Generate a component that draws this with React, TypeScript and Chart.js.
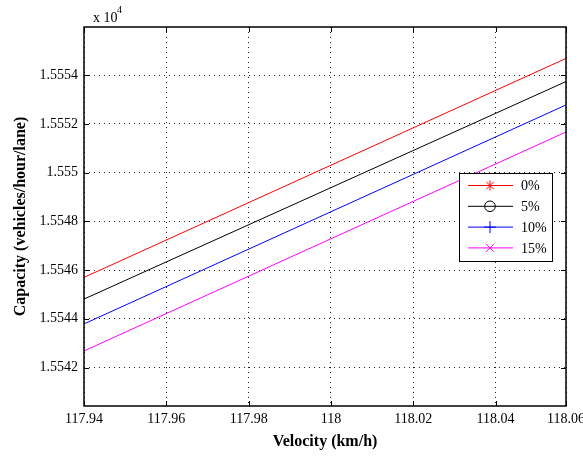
import React, { useEffect, useRef } from "react";
import { Chart, registerables } from "chart.js";

Chart.register(...registerables);

// ---- data ----
const velocity = [117.94, 118.0571];
const capacity0 = [15545.7, 15554.69];
const capacity5 = [15544.81, 15553.74];
const capacity10 = [15543.79, 15552.78];
const capacity15 = [15542.68, 15551.67];
const seriesLabels = ["0%", "5%", "10%", "15%"];
const seriesColors = ["#ff0000", "#000000", "#0000ff", "#ff00ff"];
const seriesMarkers = ["star", "circle", "plus", "cross"];

const xTickValues = [117.94, 117.96, 117.98, 118.0, 118.02, 118.04, 118.0571];
const xTickLabels = ["117.94", "117.96", "117.98", "118", "118.02", "118.04", "118.06"];
const yTickValues = [15542, 15544, 15546, 15548, 15550, 15552, 15554];
const yTickLabels = ["1.5542", "1.5544", "1.5546", "1.5548", "1.555", "1.5552", "1.5554"];
const xLimits = [117.94, 118.0571];
const yLimits = [15540.42, 15555.98];

const FONT = "'Liberation Serif', 'Times New Roman', serif";

function drawMarker(ctx: CanvasRenderingContext2D, kind: string, x: number, y: number) {
  ctx.beginPath();
  if (kind === "star") {
    const r = 5;
    ctx.moveTo(x - r, y); ctx.lineTo(x + r, y);
    ctx.moveTo(x, y - r); ctx.lineTo(x, y + r);
    const d = r * 0.75;
    ctx.moveTo(x - d, y - d); ctx.lineTo(x + d, y + d);
    ctx.moveTo(x - d, y + d); ctx.lineTo(x + d, y - d);
  } else if (kind === "circle") {
    ctx.arc(x, y, 5.3, 0, Math.PI * 2);
  } else if (kind === "plus") {
    const r = 6;
    ctx.moveTo(x - r, y); ctx.lineTo(x + r, y);
    ctx.moveTo(x, y - r); ctx.lineTo(x, y + r);
  } else {
    const d = 4;
    ctx.moveTo(x - d, y - d); ctx.lineTo(x + d, y + d);
    ctx.moveTo(x - d, y + d); ctx.lineTo(x + d, y - d);
  }
  ctx.stroke();
}

const framePlugin = {
  id: "matlabFrame",
  afterDraw(chart: any) {
    const ctx: CanvasRenderingContext2D = chart.ctx;
    const a = chart.chartArea;
    const xs = chart.scales.x;
    const ys = chart.scales.y;
    ctx.save();
    // frame
    ctx.strokeStyle = "#000";
    ctx.lineWidth = 1.5;
    ctx.strokeRect(a.left, a.top, a.right - a.left, a.bottom - a.top);
    // inward tick marks
    ctx.lineWidth = 1;
    ctx.beginPath();
    const tl = 5;
    xs.ticks.forEach((t: any) => {
      const px = Math.round(xs.getPixelForValue(t.value)) + 0.5;
      ctx.moveTo(px, a.bottom); ctx.lineTo(px, a.bottom - tl);
      ctx.moveTo(px, a.top); ctx.lineTo(px, a.top + tl);
    });
    ys.ticks.forEach((t: any) => {
      const py = Math.round(ys.getPixelForValue(t.value)) + 0.5;
      ctx.moveTo(a.left, py); ctx.lineTo(a.left + tl, py);
      ctx.moveTo(a.right, py); ctx.lineTo(a.right - tl, py);
    });
    ctx.stroke();

    // exponent label
    ctx.fillStyle = "#000";
    ctx.textBaseline = "middle";
    ctx.textAlign = "left";
    ctx.font = `14px ${FONT}`;
    ctx.fillText("x 10", a.left + 9, a.top - 9);
    ctx.font = `10px ${FONT}`;
    ctx.fillText("4", a.left + 33, a.top - 17);

    // legend
    const bx = a.right - 107;
    const by = a.top + 146;
    const bw = 93;
    const bh = 88;
    ctx.fillStyle = "#fff";
    ctx.fillRect(bx, by, bw, bh);
    ctx.strokeStyle = "#000";
    ctx.lineWidth = 1;
    ctx.strokeRect(bx + 0.5, by + 0.5, bw, bh);
    chart.data.datasets.forEach((ds: any, i: number) => {
      const ry = by + 12.5 + i * 20.8;
      ctx.strokeStyle = ds.borderColor;
      ctx.lineWidth = 1;
      ctx.beginPath();
      ctx.moveTo(bx + 9, ry);
      ctx.lineTo(bx + 54, ry);
      ctx.stroke();
      drawMarker(ctx, seriesMarkers[i], bx + 31, ry);
      ctx.fillStyle = "#000";
      ctx.font = `14px ${FONT}`;
      ctx.textAlign = "left";
      ctx.textBaseline = "middle";
      ctx.fillText(ds.label, bx + 62, ry + 1);
    });
    ctx.restore();
  },
};

export default function App() {
  const ref = useRef<HTMLCanvasElement | null>(null);
  useEffect(() => {
    document.body.style.margin = "0";
    const canvas = ref.current;
    if (!canvas) return;
    const series = [capacity0, capacity5, capacity10, capacity15];
    const chart = new Chart(canvas, {
      type: "line",
      data: {
        datasets: series.map((vals, i) => ({
          label: seriesLabels[i],
          data: velocity.map((v, j) => ({ x: v, y: vals[j] })),
          borderColor: seriesColors[i],
          backgroundColor: seriesColors[i],
          borderWidth: 1,
          pointRadius: 0,
          fill: false,
          tension: 0,
        })),
      },
      options: {
        responsive: false,
        animation: false,
        devicePixelRatio: 1,
        layout: { padding: { left: 0, right: 17, top: 27, bottom: 0 } },
        plugins: {
          legend: { display: false },
          tooltip: { enabled: false },
        },
        scales: {
          x: {
            type: "linear",
            min: xLimits[0],
            max: xLimits[1],
            afterBuildTicks: (s: any) => {
              s.ticks = xTickValues.map((v) => ({ value: v }));
            },
            afterFit: (s: any) => {
              s.height = 50;
              s.paddingLeft = 0;
              s.paddingRight = 0;
            },
            ticks: {
              autoSkip: false,
              maxRotation: 0,
              padding: 5,
              color: "#000",
              font: { family: FONT, size: 14 },
              callback: (_v: any, i: number) => xTickLabels[i],
            },
            grid: { color: "#222", lineWidth: 1, drawTicks: false },
            border: { display: false, dash: [1, 4] },
            title: {
              display: true,
              text: "Velocity (km/h)",
              color: "#000",
              font: { family: FONT, size: 16, weight: "bold" },
              padding: { top: 0, bottom: 5 },
            },
          },
          y: {
            type: "linear",
            min: yLimits[0],
            max: yLimits[1],
            afterBuildTicks: (s: any) => {
              s.ticks = yTickValues.map((v) => ({ value: v }));
            },
            afterFit: (s: any) => {
              s.width = 84;
              s.paddingTop = 0;
              s.paddingBottom = 0;
            },
            ticks: {
              autoSkip: false,
              padding: 6,
              color: "#000",
              font: { family: FONT, size: 14 },
              callback: (_v: any, i: number) => yTickLabels[i],
            },
            grid: { color: "#222", lineWidth: 1, drawTicks: false },
            border: { display: false, dash: [1, 4] },
            title: {
              display: true,
              text: "Capacity (vehicles/hour/lane)",
              color: "#000",
              font: { family: FONT, size: 16, weight: "bold" },
              padding: { top: 11, bottom: 0 },
            },
          },
        },
      },
      plugins: [framePlugin],
    });
    return () => chart.destroy();
  }, []);
  return (
    <div style={{ position: "absolute", left: 0, top: 0, width: 583, height: 456, background: "#fff" }}>
      <canvas ref={ref} width={583} height={456} style={{ display: "block" }} />
    </div>
  );
}
